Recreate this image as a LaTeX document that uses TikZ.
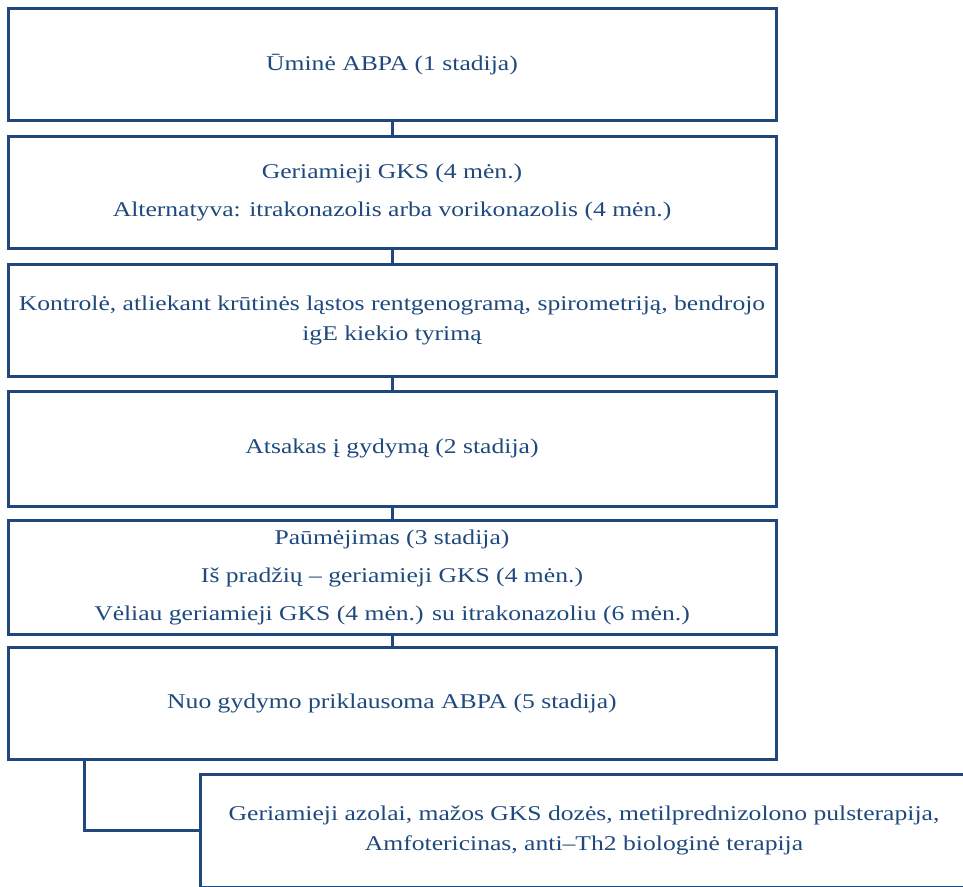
\documentclass[tikz,border=0pt]{standalone}
\usepackage{fontspec}
\setmainfont{Liberation Serif}[FakeStretch=1.22]
\definecolor{navy}{HTML}{1F497D}
\begin{document}
\begin{tikzpicture}[x=1pt,y=-1pt,
  stagebox/.style={draw=navy,line width=3pt,minimum width=768pt,inner sep=0pt,
    text=navy,align=center,font=\fontsize{21pt}{30pt}\selectfont},
  link/.style={draw=navy,line width=3pt}]
\useasboundingbox (0,0) rectangle (963,886);
\clip (0,0) rectangle (963,886);
\node[stagebox,minimum height=112.5pt] (b1) at (392,64.25) {Ūminė ABPA (1 stadija)};
\node[stagebox,minimum height=112pt] (b2) at (392,192) {Geriamieji GKS (4 mėn.)\\[8pt]Alternatyva: itrakonazolis arba vorikonazolis (4 mėn.)};
\node[stagebox,minimum height=111.5pt] (b3) at (392,320.25) {Kontrolė, atliekant krūtinės ląstos rentgenogramą, spirometriją, bendrojo\\igE kiekio tyrimą};
\node[stagebox,minimum height=115pt] (b4) at (392,448.5) {Atsakas į gydymą (2 stadija)};
\node[stagebox,minimum height=113.5pt] (b5) at (392,577.25) {Paūmėjimas (3 stadija)\\[8pt]Iš pradžių – geriamieji GKS (4 mėn.)\\[8pt]Vėliau geriamieji GKS (4 mėn.) su itrakonazoliu (6 mėn.)};
\node[stagebox,minimum height=112pt] (b6) at (392,703.5) {Nuo gydymo priklausoma ABPA (5 stadija)};
\node[stagebox,minimum height=113pt] (b7) at (584,830.5) {Geriamieji azolai, mažos GKS dozės, metilprednizolono pulsterapija,\\Amfotericinas, anti–Th2 biologinė terapija};
\coordinate (bend) at (84,830.5);
\draw[link] (b1.south) -- (b2.north);
\draw[link] (b2.south) -- (b3.north);
\draw[link] (b3.south) -- (b4.north);
\draw[link] (b4.south) -- (b5.north);
\draw[link] (b5.south) -- (b6.north);
\draw[link] (b6.south -| bend) -- (bend) -- (b7.west);
\end{tikzpicture}
\end{document}
